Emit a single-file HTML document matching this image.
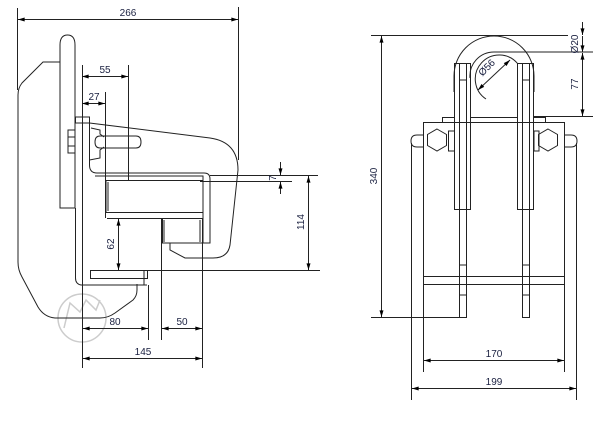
<!DOCTYPE html>
<html><head><meta charset="utf-8"><style>
html,body{margin:0;padding:0;background:#fff;}
svg{display:block;}
text{font-family:"Liberation Sans",sans-serif;font-size:10px;fill:#1a2040;}
</style></head><body>
<svg width="605" height="423" viewBox="0 0 605 423" xmlns="http://www.w3.org/2000/svg">
<defs>
<marker id="a" viewBox="0 0 10 6" refX="10" refY="3" markerWidth="8" markerHeight="4" orient="auto-start-reverse" markerUnits="userSpaceOnUse"><path d="M0,0L10,3L0,6z" fill="#000"/></marker>
</defs>
<g fill="none" stroke="#222" stroke-width="1">
<circle cx="82" cy="318" r="24" stroke="#ccc" stroke-width="1.5"/>
<path d="M64,328 L70,303 L80,312 L86,300 L96,310 L100,300" stroke="#ccc" stroke-width="1.5"/>

<line x1="17.5" y1="8" x2="17.5" y2="90"/>
<line x1="238.5" y1="7" x2="238.5" y2="160"/>
<line x1="18" y1="19.5" x2="238" y2="19.5" marker-start="url(#a)" marker-end="url(#a)"/>
<path d="M60,62 L43,62 L22,83 Q18,88 18,95 L18,262 Q18,270 22,277 L38,307 Q44,317 55,318 L100,318 Q108,318 115,313 L133,300 Q137,296 137,290 L137,284"/>
<path d="M60,208 L60,45 Q60,35 67.5,35 Q75,35 75,45 L75,208 Z"/>
<line x1="82.5" y1="65" x2="82.5" y2="285"/>
<path d="M75.5,208 L75.5,278 Q75.5,284 81,285 L147,285"/>
<rect x="68" y="130" width="7" height="23"/>
<line x1="68" y1="137" x2="75" y2="137"/><line x1="68" y1="146" x2="75" y2="146"/>
<rect x="75.5" y="117" width="14" height="6"/>
<path d="M89.5,123 L210,138 Q238,142 238,170 L230,245 Q228,258 213,258 L185,258 L170,250 L170,243"/>
<path d="M89.5,123 L89.5,165 Q89.5,173 97,173 L204,173 Q210,173 210,179 L210,243 L202,243"/>
<path d="M91,128 L100,130 L100,134 L104,137 M104,147 L100,150 L100,158 L89.5,160"/>
<path d="M100,136 L136,136 Q141,136 141,142 Q141,148 136,148 L100,148 Q95,148 95,142 Q95,136 100,136"/>
<path d="M95,176 L203,176 L203,243"/>
<rect x="106" y="180.5" width="97" height="32"/>
<line x1="108" y1="182" x2="108" y2="211"/>
<rect x="162.5" y="218.5" width="40" height="24.5"/>
<line x1="164" y1="220" x2="164" y2="242"/><line x1="200" y1="220" x2="200" y2="242"/>
<line x1="107" y1="218.5" x2="203" y2="218.5"/>
<rect x="90.5" y="270.5" width="57" height="8"/>
<line x1="144" y1="271" x2="144" y2="285"/>
<line x1="128.5" y1="65" x2="128.5" y2="180"/>
<line x1="105.5" y1="92" x2="105.5" y2="218"/>
<line x1="82" y1="76.5" x2="128" y2="76.5" marker-start="url(#a)" marker-end="url(#a)"/>
<line x1="82" y1="103.5" x2="105" y2="103.5" marker-start="url(#a)" marker-end="url(#a)"/>
<line x1="210" y1="175.5" x2="318" y2="175.5"/>
<line x1="200" y1="181.5" x2="292" y2="181.5"/>
<line x1="280.5" y1="162" x2="280.5" y2="175" marker-end="url(#a)"/>
<line x1="280.5" y1="194" x2="280.5" y2="182" marker-end="url(#a)"/>
<line x1="148" y1="270.5" x2="320" y2="270.5"/>
<line x1="308.5" y1="176" x2="308.5" y2="270" marker-start="url(#a)" marker-end="url(#a)"/>
<line x1="118.5" y1="219" x2="118.5" y2="270" marker-start="url(#a)" marker-end="url(#a)"/>
<line x1="82.5" y1="285" x2="82.5" y2="368"/>
<line x1="148.5" y1="285" x2="148.5" y2="340"/>
<line x1="161.5" y1="218" x2="161.5" y2="340"/>
<line x1="202.5" y1="243" x2="202.5" y2="368"/>
<line x1="83" y1="328.5" x2="148" y2="328.5" marker-start="url(#a)" marker-end="url(#a)"/>
<line x1="162" y1="328.5" x2="202" y2="328.5" marker-start="url(#a)" marker-end="url(#a)"/>
<line x1="83" y1="358.5" x2="202" y2="358.5" marker-start="url(#a)" marker-end="url(#a)"/>

<line x1="371" y1="35.5" x2="568" y2="35.5"/>
<line x1="371" y1="317.5" x2="466" y2="317.5"/>
<line x1="381.5" y1="36" x2="381.5" y2="317" marker-start="url(#a)" marker-end="url(#a)"/>
<path d="M454,76 A40,40 0 0 1 534,76 L534,92"/>
<path d="M454,76 L454,92"/>
<path d="M486,99 A24,24 0 1 1 518,64"/>
<path d="M470,78 A24,24 0 0 1 494,52 L593,52"/>
<rect x="454.5" y="63.5" width="16" height="146"/>
<rect x="517.5" y="63.5" width="16" height="146"/>
<rect x="459.5" y="63.5" width="7" height="254"/>
<rect x="522.5" y="63.5" width="7" height="254"/>
<line x1="459" y1="80" x2="467" y2="80"/><line x1="522" y1="80" x2="530" y2="80"/>
<line x1="459" y1="265" x2="467" y2="265"/><line x1="522" y1="265" x2="530" y2="265"/>
<line x1="459" y1="295" x2="467" y2="295"/><line x1="522" y1="295" x2="530" y2="295"/>
<path d="M442.5,122 L442.5,117.5 L454,117.5 M470,117.5 L517,117.5 M534,117.5 L545.5,117.5 L545.5,122"/>
<line x1="423" y1="122.5" x2="565" y2="122.5"/>
<line x1="423.5" y1="122" x2="423.5" y2="372"/>
<line x1="564.5" y1="122" x2="564.5" y2="372"/>
<line x1="411.5" y1="143" x2="411.5" y2="400"/>
<line x1="576.5" y1="143" x2="576.5" y2="400"/>
<path d="M423.5,135 L417,135 Q411,135 411,141 Q411,147 417,147 L423.5,147"/>
<path d="M564.5,135 L571,135 Q577,135 577,141 Q577,147 571,147 L564.5,147"/>
<polygon points="437,129 446.5,134.5 446.5,145.5 437,151 427.5,145.5 427.5,134.5"/>
<polygon points="548,129 557.5,134.5 557.5,145.5 548,151 538.5,145.5 538.5,134.5"/>
<rect x="448.5" y="131" width="6" height="20"/>
<rect x="534" y="131" width="5" height="20"/>
<line x1="423" y1="276.5" x2="565" y2="276.5"/>
<line x1="423" y1="284.5" x2="565" y2="284.5"/>
<line x1="534" y1="116.5" x2="593" y2="116.5"/>
<line x1="582.5" y1="22" x2="582.5" y2="35" marker-end="url(#a)"/>
<line x1="582.5" y1="36" x2="582.5" y2="52" marker-end="url(#a)"/>
<line x1="582.5" y1="53" x2="582.5" y2="116" marker-start="url(#a)" marker-end="url(#a)"/>
<line x1="478" y1="90" x2="510" y2="60" marker-start="url(#a)" marker-end="url(#a)"/>
<line x1="424" y1="360.5" x2="564" y2="360.5" marker-start="url(#a)" marker-end="url(#a)"/>
<line x1="412" y1="388.5" x2="576" y2="388.5" marker-start="url(#a)" marker-end="url(#a)"/>
</g>
<text x="128" y="16" text-anchor="middle">266</text>
<text x="105" y="73" text-anchor="middle">55</text>
<text x="94" y="100" text-anchor="middle">27</text>
<text x="115" y="325" text-anchor="middle">80</text>
<text x="182" y="325" text-anchor="middle">50</text>
<text x="143" y="355" text-anchor="middle">145</text>
<text transform="translate(114,244) rotate(-90)" text-anchor="middle">62</text>
<text transform="translate(304,222) rotate(-90)" text-anchor="middle">114</text>
<text transform="translate(276,178) rotate(-90)" text-anchor="middle">7</text>
<text transform="translate(377,176) rotate(-90)" text-anchor="middle">340</text>
<text transform="translate(578,44) rotate(-90)" text-anchor="middle">Ø20</text>
<text transform="translate(578,84) rotate(-90)" text-anchor="middle">77</text>
<text transform="translate(489,70) rotate(-45)" text-anchor="middle">Ø56</text>
<text x="494" y="357" text-anchor="middle">170</text>
<text x="494" y="385" text-anchor="middle">199</text>
</svg>
</body></html>
